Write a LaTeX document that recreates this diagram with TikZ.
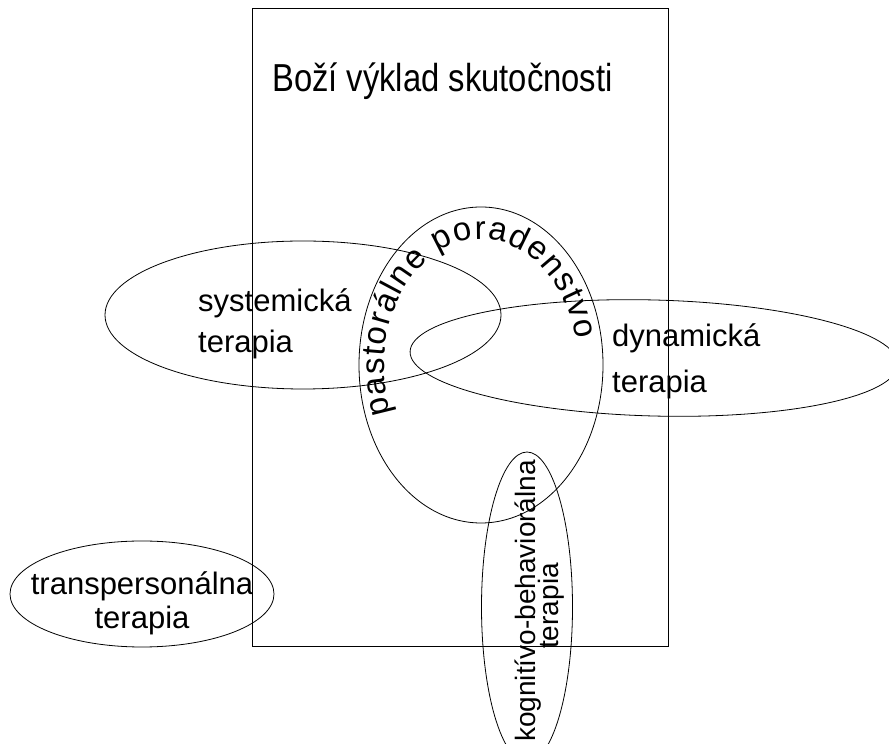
\documentclass[tikz,border=0pt]{standalone}
\usepackage{fontspec}
\setmainfont{Liberation Sans}
\newfontfamily\titlefont[FakeStretch=0.84]{Liberation Sans}
\usetikzlibrary{decorations.text}
\begin{document}
\begin{tikzpicture}[x=1pt,y=1pt,
  outline/.style={draw=black,line width=0.8pt},
  lbl/.style={font=\fontsize{31}{37}\selectfont,inner sep=0pt,text=black},
  titlelbl/.style={font=\titlefont\fontsize{39}{45}\selectfont,inner sep=0pt,text=black}]
\useasboundingbox (0,0) rectangle (889,744);
% frame
\node[outline,minimum width=416pt,minimum height=638pt,inner sep=0pt] (frame) at (460,417) {};
% ellipses
\draw[outline] (303,429) ellipse[x radius=198,y radius=74];
\draw[outline,rotate around={-1.5:(654,386)}] (654,386) ellipse[x radius=244,y radius=58];
\draw[outline] (481,379) ellipse[x radius=122,y radius=158];
\draw[outline] (527,137) ellipse[x radius=45.5,y radius=155];
\draw[outline] (142,150) ellipse[x radius=132,y radius=53];
% texts
\node[titlelbl,anchor=base west] (title) at (272,652) {Boží výklad skutočnosti};
\node[lbl,anchor=base west] (sys1) at (198,432) {systemická};
\node[lbl,anchor=base west] (sys2) at (198,391) {terapia};
\node[lbl,anchor=base west] (dyn1) at (612,397) {dynamická};
\node[lbl,anchor=base west] (dyn2) at (612,351) {terapia};
\node[lbl,anchor=base] (tp1) at (142,149) {transpersonálna};
\node[lbl,anchor=base] (tp2) at (142,115) {terapia};
\node[lbl,font=\fontsize{28}{33}\selectfont,anchor=base,rotate=90] (kog1) at (535,143) {kognitívo-behaviorálna};
\node[lbl,font=\fontsize{28}{33}\selectfont,anchor=base,rotate=90] (kog2) at (558,138) {terapia};
% curved text
\path[decorate,decoration={text along path,
   text={|\fontsize{33}{39}\selectfont|pastorálne poradenstvo},
   text align={fit to path}}]
   (391.1,330.4) arc[start angle=202,end angle=12,x radius=97,y radius=127];
\end{tikzpicture}
\end{document}
